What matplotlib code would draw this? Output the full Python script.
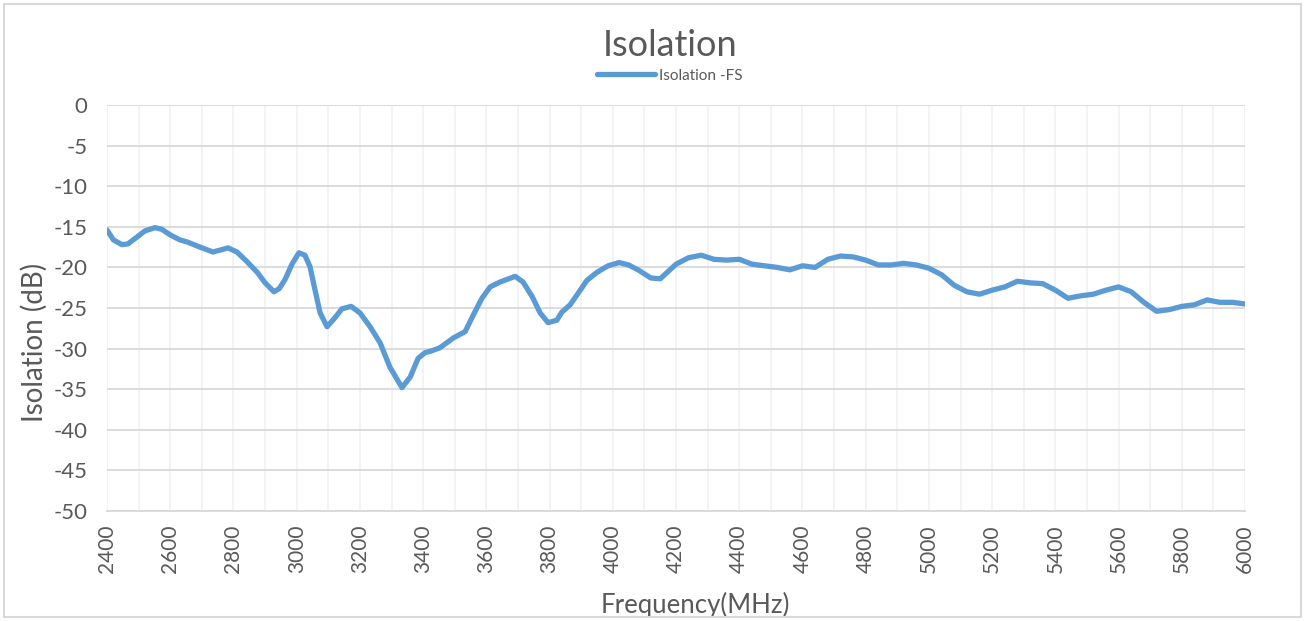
import matplotlib.pyplot as plt
from matplotlib.patches import Rectangle

# Isolation -FS
freq = [2400, 2420, 2447, 2466, 2490, 2520, 2552, 2573, 2600, 2630, 2656, 2694,
        2735, 2783, 2811, 2843, 2875, 2900, 2928, 2945, 2963, 2985, 3007, 3026,
        3042, 3058, 3074, 3096, 3121, 3143, 3172, 3200, 3232, 3264, 3295, 3333,
        3359, 3384, 3406, 3425, 3453, 3495, 3533, 3558, 3586, 3612, 3643, 3691,
        3716, 3745, 3770, 3795, 3823, 3839, 3865, 3890, 3918, 3950, 3985, 4020,
        4050, 4080, 4120, 4150, 4200, 4240,
        4280, 4320, 4360, 4400, 4440, 4480, 4520, 4560, 4600, 4640, 4680, 4720,
        4760, 4800, 4840, 4880, 4920, 4960, 5000, 5040, 5080, 5120, 5160, 5200,
        5240, 5280, 5320, 5360, 5400, 5440, 5480, 5520, 5560, 5600, 5640, 5680,
        5720, 5760, 5800, 5840, 5880, 5920, 5960, 6000]
iso = [-15.4, -16.6, -17.2, -17.1, -16.4, -15.5, -15.1, -15.3, -16.0, -16.6, -16.9, -17.5,
       -18.1, -17.6, -18.1, -19.3, -20.6, -21.9, -23.0, -22.6, -21.5, -19.6, -18.2, -18.5,
       -19.9, -22.8, -25.6, -27.3, -26.2, -25.1, -24.8, -25.6, -27.3, -29.3, -32.3, -34.8,
       -33.5, -31.2, -30.5, -30.3, -29.9, -28.7, -27.9, -25.9, -23.8, -22.4, -21.8, -21.1,
       -21.8, -23.6, -25.6, -26.8, -26.5, -25.5, -24.6, -23.2, -21.6, -20.6, -19.8, -19.4,
       -19.7, -20.3, -21.3, -21.4, -19.6, -18.8,
       -18.5, -19.0, -19.1, -19.0, -19.6, -19.8, -20.0, -20.3, -19.8, -20.0, -19.0, -18.6,
       -18.7, -19.1, -19.7, -19.7, -19.5, -19.7, -20.1, -20.9, -22.2, -23.0, -23.3, -22.8,
       -22.4, -21.7, -21.9, -22.0, -22.8, -23.8, -23.5, -23.3, -22.8, -22.4, -23.0, -24.3,
       -25.4, -25.2, -24.8, -24.6, -24.0, -24.3, -24.3, -24.5]

xticks = list(range(2400, 6001, 200))
yticks = list(range(-50, 1, 5))

blue = '#5B9BD5'
grey = '#595959'

plt.rcParams['font.family'] = ['Lato', 'DejaVu Sans']
plt.rcParams['axes.unicode_minus'] = False

fig = plt.figure(figsize=(13.07, 6.21), dpi=100)
ax = fig.add_axes([0.0819, 0.1771, 0.8707, 0.6538])

ax.plot(freq, iso, color=blue, lw=3.8, solid_capstyle='round',
        solid_joinstyle='round', label='Isolation -FS', zorder=3)

ax.set_xlim(2400, 6000)
ax.set_ylim(-50, 0)
ax.set_xticks(xticks)
ax.set_xticks(range(2400, 6001, 100), minor=True)
ax.set_yticks(yticks)
ax.tick_params(axis='both', length=0, colors=grey, labelsize=15)
ax.tick_params(axis='x', which='both', length=0, rotation=90, pad=10)
ax.tick_params(axis='y', pad=14, labelsize=16)
ax.grid(axis='x', which='both', color='#F2F2F2', lw=1.3, zorder=0)
ax.grid(axis='y', color='#D9D9D9', lw=1.3, zorder=1)
for s in ['top', 'right', 'left']:
    ax.spines[s].set_visible(False)
ax.spines['bottom'].set_color('#D9D9D9')
ax.spines['bottom'].set_linewidth(1.3)

ax.set_xlabel('Frequency(MHz)', fontsize=18.5, color=grey)
ax.set_ylabel('Isolation (dB)', fontsize=20, color=grey)
ax.xaxis.set_label_coords(0.5167, -0.198)
ax.yaxis.set_label_coords(-0.052, 0.414)
fig.text(0.5126, 0.927, 'Isolation', ha='center', va='center', fontsize=26, color=grey)
leg = fig.legend(loc='center', bbox_to_anchor=(0.5126, 0.878), frameon=False,
                 fontsize=11, handlelength=3.8, handletextpad=0.3,
                 labelcolor=grey)

fig.add_artist(Rectangle((4 / 1307, 4 / 621), 1297 / 1307, 613 / 621,
                         transform=fig.transFigure, fill=False,
                         edgecolor='#D9D9D9', lw=1.5))

fig.savefig('out.png', dpi=100)
